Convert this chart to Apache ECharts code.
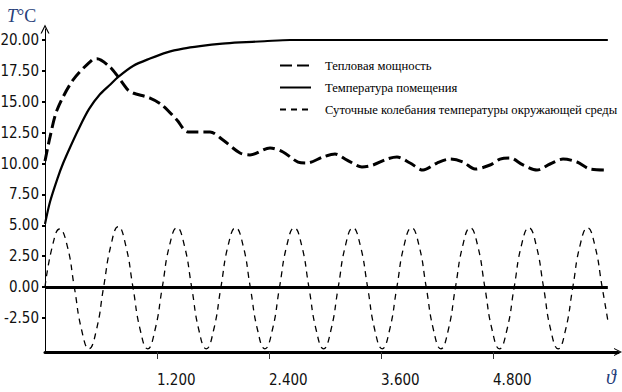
<!DOCTYPE html>
<html><head><meta charset="utf-8">
<script src="https://cdn.jsdelivr.net/npm/echarts@6/dist/echarts.min.js"></script>
<style>html,body{margin:0;padding:0;background:#fff}#c{width:622px;height:392px}</style>
</head><body><div id="c"></div>
<script>
// ---- data ----
const seriesNames = ['Тепловая мощность', 'Температура помещения', 'Суточные колебания температуры окружающей среды'];
const xTicks = [1.2, 2.4, 3.6, 4.8];
const yTicks = [-2.5, 0, 2.5, 5, 7.5, 10, 12.5, 15, 17.5, 20];

const heatX = [0,0.054,0.129,0.300,0.504,0.557,0.696,0.782,0.889,0.943,1.125,1.254,1.414,1.532,1.768,1.907,2.089,2.196,2.411,2.550,2.711,2.807,2.979,3.107,3.236,3.396,3.514,3.664,3.771,3.911,4.050,4.200,4.339,4.479,4.607,4.768,4.875,4.982,5.121,5.271,5.411,5.550,5.700,5.839,6.021];
const heatY = [10.2,12.15,14.33,16.76,18.38,18.49,17.81,17.03,15.95,15.71,15.30,14.74,13.52,12.55,12.55,11.9,10.85,10.69,11.26,10.93,10.12,10.04,10.53,10.77,10.28,9.72,9.88,10.36,10.53,10.04,9.47,10.04,10.36,10.12,9.55,9.88,10.36,10.45,9.88,9.47,9.96,10.36,10.12,9.55,9.47];

const tempX = [0,0.054,0.139,0.193,0.268,0.354,0.471,0.589,0.700,0.782,0.943,1.125,1.307,1.480,1.661,1.900,2.089,2.350,2.625,6.030];
const tempY = [5.1,6.9,8.9,10.0,11.3,12.7,14.4,15.6,16.4,17.0,17.9,18.5,19.0,19.3,19.5,19.7,19.8,19.9,20.0,20.0];

const oscX = [0,0.079,0.157,0.236,0.314,0.393,0.471,0.550,0.628,0.707,0.785,0.864,0.942,1.021,1.100,1.178,1.257,1.335,1.414,1.492,1.571,1.649,1.728,1.806,1.885,1.963,2.042,2.121,2.199,2.278,2.356,2.435,2.513,2.592,2.670,2.749,2.827,2.906,2.985,3.063,3.142,3.220,3.299,3.377,3.456,3.534,3.613,3.691,3.770,3.848,3.927,4.006,4.084,4.163,4.241,4.320,4.398,4.477,4.555,4.634,4.712,4.791,4.869,4.948,5.027,5.105,5.184,5.262,5.341,5.419,5.498,5.576,5.655,5.733,5.812,5.890,5.969,6.030];
const oscY = [0,3.3,4.7,3.4,0,-3.5,-5.0,-3.5,
              0,3.4,4.9,3.4,0,-3.5,-5.0,-3.5,
              0,3.4,4.8,3.4,0,-3.5,-5.0,-3.5,
              0,3.4,4.8,3.4,0,-3.5,-5.0,-3.5,
              0,3.4,4.8,3.4,0,-3.5,-5.0,-3.5,
              0,3.4,4.8,3.4,0,-3.5,-5.0,-3.5,
              0,3.4,4.8,3.4,0,-3.5,-5.0,-3.5,
              0,3.4,4.8,3.4,0,-3.5,-5.0,-3.5,
              0,3.4,4.8,3.4,0,-3.5,-5.0,-3.5,
              0,3.4,4.8,3.4,0,-2.7];

// ---- chart ----
const pairs = (xs, ys) => xs.map((x, i) => [x, ys[i]]);
const labelFont = "'Liberation Sans Narrow','DejaVu Sans Condensed',sans-serif";
const serif = "'Liberation Serif','Times New Roman',serif";
const navy = '#26407a';
const chevron = 'path://M0,10 L5,0 L10,10 L8.6,10 L5,2.8 L1.4,10 Z';

const chart = echarts.init(document.getElementById('c'), null, {renderer: 'svg'});
chart.setOption({
  animation: false,
  backgroundColor: '#fff',
  grid: {left: 45, right: 4, top: 29, bottom: 40, containLabel: false, outerBoundsMode: 'none'},
  legend: {
    orient: 'vertical', left: 279, top: 59, padding: 0,
    itemWidth: 31, itemHeight: 14, itemGap: 9, selectedMode: false,
    itemStyle: {opacity: 0},
    data: seriesNames,
    textStyle: {fontFamily: serif, fontSize: 12.6, color: '#000', padding: [0, 0, 0, 9]}
  },
  xAxis: {
    type: 'value', min: 0, max: 6.139,
    axisLine: {show: true, onZero: false, lineStyle: {color: '#000', width: 3}, symbol: ['none', chevron], symbolSize: [8, 8]},
    axisTick: {show: true, customValues: xTicks, length: 7, lineStyle: {color: '#333', width: 1}},
    axisLabel: {customValues: xTicks, formatter: v => v.toFixed(3), align: 'left', margin: 20,
                fontFamily: labelFont, fontSize: 15, color: '#111'},
    splitLine: {show: false}
  },
  yAxis: {
    type: 'value', min: -5.26, max: 20.89,
    axisLine: {show: true, onZero: false, lineStyle: {color: '#000', width: 1}, symbol: ['none', chevron], symbolSize: [10, 9]},
    axisTick: {show: true, customValues: yTicks, length: 3, lineStyle: {color: '#000', width: 2}},
    axisLabel: {customValues: yTicks, formatter: v => v.toFixed(2), margin: 6,
                fontFamily: labelFont, fontSize: 15, color: '#111'},
    splitLine: {show: false}
  },
  graphic: [
    {type: 'text', left: 7, top: 7, style: {text: '{t|T}°C', fontFamily: serif, fontSize: 18, fill: navy,
      rich: {t: {fontStyle: 'italic', fontFamily: serif, fontSize: 18, fill: navy}}}},
    {type: 'text', left: 606, top: 367, style: {text: 'ϑ', fontFamily: serif, fontStyle: 'italic', fontSize: 20, fill: navy}}
  ],
  series: [
    {name: seriesNames[0], type: 'line', symbol: 'none', smooth: 0.3, data: pairs(heatX, heatY),
     lineStyle: {color: '#000', width: 3, type: [12, 5]}, itemStyle: {color: '#000'}},
    {name: seriesNames[1], type: 'line', symbol: 'none', smooth: 0.3, data: pairs(tempX, tempY),
     lineStyle: {color: '#000', width: 2.2, type: 'solid'}, itemStyle: {color: '#000'}},
    {name: seriesNames[2], type: 'line', symbol: 'none', smooth: true, data: pairs(oscX, oscY),
     lineStyle: {color: '#000', width: 1.3, type: [6, 5]}, itemStyle: {color: '#000'},
     markLine: {silent: true, symbol: ['none', 'none'], label: {show: false},
       lineStyle: {color: '#000', width: 3, type: 'solid'},
       data: [[{coord: [0, 0]}, {coord: [oscX[oscX.length - 1], 0]}]]}}
  ]
});
</script></body></html>
